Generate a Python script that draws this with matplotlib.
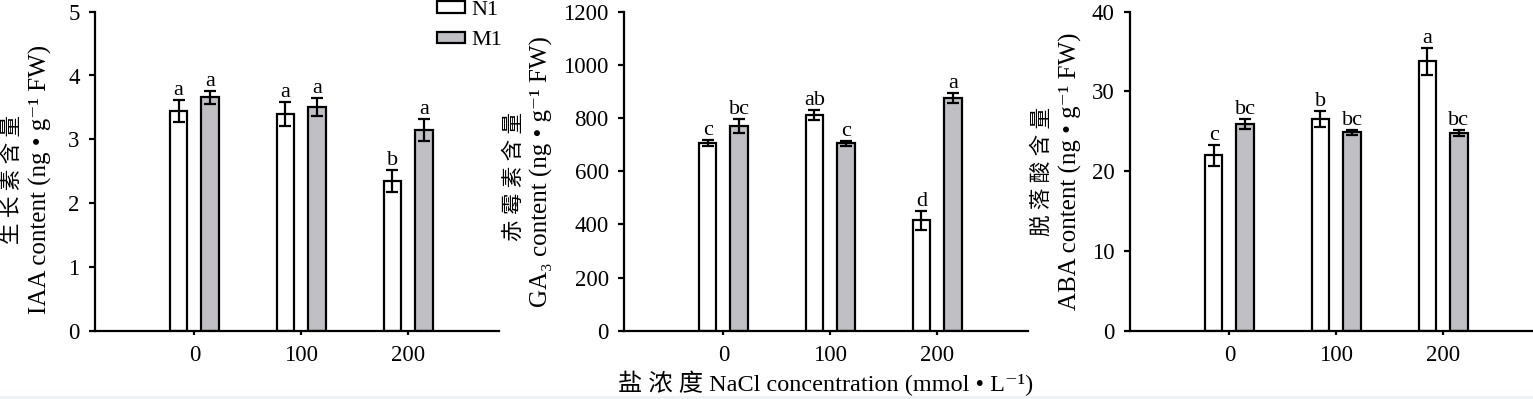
# Fitohormonas: IAA, GA3, ABA bajo salinidad (N1 vs M1)

import numpy as np
import matplotlib.pyplot as plt
from matplotlib.patches import Patch, Rectangle

plt.rcParams['font.family'] = ['Liberation Serif', 'DejaVu Serif', 'Noto Sans CJK SC']

# Datos

conc = ['0', '100', '200']

iaa_n1 = [3.44, 3.40, 2.35]
iaa_n1_err = [0.17, 0.19, 0.17]
iaa_m1 = [3.66, 3.51, 3.15]
iaa_m1_err = [0.10, 0.14, 0.17]
iaa_n1_sig = ['a', 'a', 'b']
iaa_m1_sig = ['a', 'a', 'a']

ga_n1 = [706, 811, 415]
ga_n1_err = [10, 19, 36]
ga_m1 = [770, 705, 876]
ga_m1_err = [25, 10, 18]
ga_n1_sig = ['c', 'ab', 'd']
ga_m1_sig = ['bc', 'c', 'a']

aba_n1 = [22.0, 26.5, 33.8]
aba_n1_err = [1.3, 1.0, 1.7]
aba_m1 = [25.9, 24.9, 24.8]
aba_m1_err = [0.6, 0.3, 0.35]
aba_n1_sig = ['c', 'b', 'a']
aba_m1_sig = ['bc', 'bc', 'bc']

W, H = 1533, 399
fig = plt.figure(figsize=(W / 100, H / 100), dpi=100)

def ejes(left, top, width, height):
    return fig.add_axes([left / W, 1 - (top + height) / H, width / W, height / H])

paneles = [
    (95, iaa_n1, iaa_n1_err, iaa_m1, iaa_m1_err, iaa_n1_sig, iaa_m1_sig, 5, 1),
    (624, ga_n1, ga_n1_err, ga_m1, ga_m1_err, ga_n1_sig, ga_m1_sig, 1200, 200),
    (1130, aba_n1, aba_n1_err, aba_m1, aba_m1_err, aba_n1_sig, aba_m1_sig, 40, 10),
]

gris = '#c0c0c4'
off = 0.148
ancho = 0.165
ekw = dict(ecolor='black', elinewidth=1.6, capsize=4, capthick=1.6)

axes = []
for left, n1, n1e, m1, m1e, s1, s2, ymax, paso in paneles:
    ax = ejes(left, 11.7, 404, 319)
    x = np.arange(len(conc))
    ax.bar(x - off, n1, ancho, yerr=n1e, color='white', edgecolor='black',
           linewidth=1.6, error_kw=ekw, zorder=2)
    ax.bar(x + off, m1, ancho, yerr=m1e, color=gris, edgecolor='black',
           linewidth=1.6, error_kw=ekw, zorder=2)
    for i in range(len(conc)):
        ax.annotate(s1[i], (x[i] - off, n1[i] + n1e[i]), xytext=(0, 0),
                    textcoords='offset points', ha='center', va='bottom', fontsize=16)
        ax.annotate(s2[i], (x[i] + off, m1[i] + m1e[i]), xytext=(0, 0),
                    textcoords='offset points', ha='center', va='bottom', fontsize=16)
    ax.set_xlim(-0.93, 2.85)
    ax.set_ylim(0, ymax)
    ax.set_yticks(np.arange(0, ymax + paso / 2, paso))
    ax.set_xticks(x)
    ax.set_xticklabels(conc)
    ax.spines['top'].set_visible(False)
    ax.spines['right'].set_visible(False)
    ax.spines['left'].set_linewidth(1.6)
    ax.spines['bottom'].set_linewidth(1.6)
    ax.tick_params(axis='y', direction='out', length=4, width=1.6, labelsize=16.5, pad=7)
    ax.tick_params(axis='x', direction='out', length=3, width=1.6, labelsize=16.5, pad=7)
    ax.set_facecolor('none')
    axes.append(ax)

# Etiquetas del eje y (dos lineas)

def etiqueta(xc, yc, texto, size):
    fig.text(xc / W, 1 - yc / H, texto, rotation=90, ha='center', va='center', fontsize=size)

etiqueta(13, 180, '生 长 素 含 量', 15.5)
etiqueta(40, 179, 'IAA content (ng • g⁻¹ FW)', 18)
etiqueta(515, 177, '赤 霉 素 含 量', 15.5)
etiqueta(541, 172, 'GA₃ content (ng • g⁻¹ FW)', 18)
etiqueta(1043, 172, '脱 落 酸 含 量', 15.5)
etiqueta(1070, 171, 'ABA content (ng • g⁻¹ FW)', 18)

fig.text(826 / W, 1 - 383 / H, '盐 浓 度 NaCl concentration (mmol • L⁻¹)',
         ha='center', va='center', fontsize=17.5)

# Leyenda

handles = [Patch(facecolor='white', edgecolor='black', linewidth=1.6),
           Patch(facecolor=gris, edgecolor='black', linewidth=1.6)]
fig.legend(handles, ['N1', 'M1'], loc='upper left', bbox_to_anchor=(437 / W, 1 - 1 / H),
           frameon=False, fontsize=16, handlelength=1.25, handleheight=0.4,
           handletextpad=0.3, labelspacing=0.5, borderpad=0, borderaxespad=0)

fig.patches.append(Rectangle((0, 0), 1, 3 / H, transform=fig.transFigure,
                             facecolor='#eef2f6', edgecolor='none'))

plt.savefig('out.png', dpi=100)
